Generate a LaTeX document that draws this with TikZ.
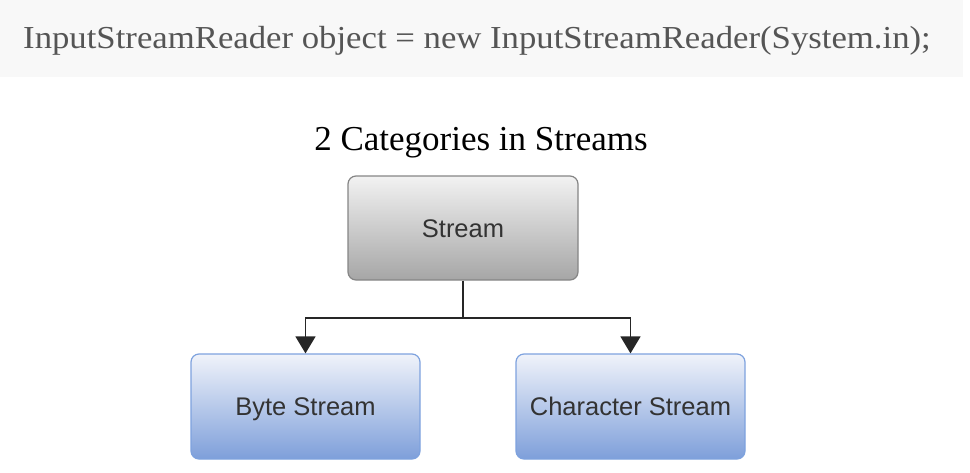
\documentclass[tikz,border=0pt]{standalone}
\usepackage{fontspec}
\setmainfont{Liberation Serif}
\newfontfamily\boxfont{Liberation Sans}
\usetikzlibrary{arrows.meta}
\definecolor{band}{HTML}{F8F8F8}
\definecolor{codegray}{HTML}{555555}
\definecolor{grayborder}{HTML}{858585}
\definecolor{graytop}{HTML}{F2F2F2}
\definecolor{graybot}{HTML}{A6A6A6}
\definecolor{blueborder}{HTML}{7EA2DE}
\definecolor{bluetop}{HTML}{F0F3FA}
\definecolor{bluebot}{HTML}{7E9FDA}
\definecolor{boxtext}{HTML}{333333}
\tikzset{
  boxbase/.style={line width=1.2pt, rounded corners=8pt, font=\boxfont\fontsize{25.5}{30}\selectfont, text=boxtext, inner sep=0pt, text height=18pt, text depth=0pt},
  graybox/.style={boxbase, draw=grayborder, top color=graytop, bottom color=graybot, minimum width=230pt, minimum height=104pt},
  bluebox/.style={boxbase, draw=blueborder, top color=bluetop, bottom color=bluebot, minimum width=229pt, minimum height=105pt},
  wire/.style={draw=black!85, line width=1.5pt},
  conn/.style={wire, -{Triangle[length=17pt,width=20pt]}}
}
\begin{document}
\begin{tikzpicture}[x=1pt,y=-1pt]
\useasboundingbox (0,0) rectangle (970,472);
\fill[band] (0,0) rectangle (963,77);
\node[text=codegray, font=\fontsize{32}{36}\selectfont, inner sep=0pt, anchor=base west] (code) at (23,48) {\scalebox{1.085}[1]{InputStreamReader object = new InputStreamReader(System.in);}};
\node[font=\fontsize{35}{40}\selectfont, inner sep=0pt, anchor=base] (title) at (481,150) {2 Categories in Streams};
\node[graybox] (stream) at (463,228) {Stream};
\node[bluebox] (byte) at (305.5,406.5) {Byte Stream};
\node[bluebox] (char) at (630.5,406.5) {Character Stream};
\coordinate (split) at (463,318);
\draw[wire] (stream.south) -- (split);
\draw[conn] (split) -| (byte.north);
\draw[conn] (split) -| (char.north);
\end{tikzpicture}
\end{document}
